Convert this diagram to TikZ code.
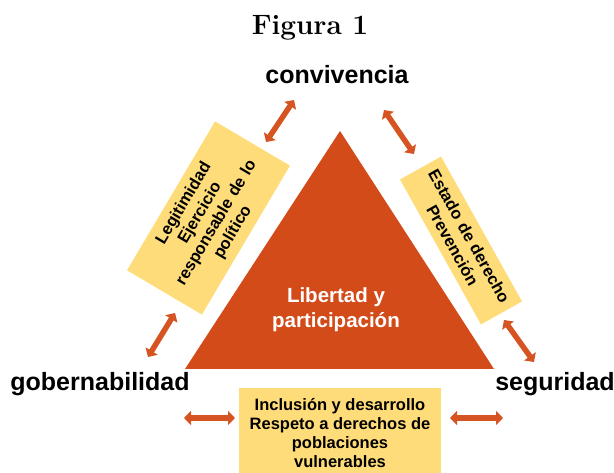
\documentclass[tikz,border=0pt]{standalone}
\usepackage{fontspec}
\usepackage{tikz}
\usetikzlibrary{arrows.meta}
\usetikzlibrary{positioning, calc}
\newfontfamily\arialfont{Liberation Sans}
\definecolor{triorange}{RGB}{210,75,25}
\definecolor{arroworange}{RGB}{214,84,34}
\definecolor{boxyellow}{RGB}{255,220,122}
\tikzset{
    concept/.style = {font=\arialfont\bfseries\fontsize{25}{28}\selectfont, inner sep=0pt},
    valuebox/.style = {fill=boxyellow, inner sep=0pt, align=center,
        font=\arialfont\bfseries\fontsize{16.5}{19}\selectfont},
    link/.style = {{Triangle[length=7pt,width=14pt]}-{Triangle[length=7pt,width=14pt]},
        line width=5.5pt, arroworange},
}

\begin{document}
\begin{tikzpicture}[x=1pt,y=-1pt]
        \useasboundingbox (0,0) rectangle (614,473);
        \node (title) at (310,28) {\bfseries\fontsize{28}{32}\selectfont Figura 1};
        % three corners
        \node [concept] (conv) at (337,75) {convivencia};
        \node [concept] (gob) at (100,384) {gobernabilidad};
        \node [concept] (seg) at (555,384) {seguridad};
        % central triangle
        \coordinate (apex) at (340,131);
        \coordinate (baseL) at (185,369);
        \coordinate (baseR) at (494,369);
        \fill [triorange] (apex) -- (baseR) -- (baseL) -- cycle;
        \node [align=center, white, font=\arialfont\bfseries\fontsize{20.5}{25}\selectfont] (core) at (336,310) {Libertad y\\participación};
        % value boxes
        \node [valuebox, rotate=59.4, minimum width=173pt, minimum height=87pt, text width=150pt] (left) at (208.5,218) {Legitimidad\\Ejercicio\\responsable de lo\\político};
        \node [valuebox, rotate=-60.8, minimum width=166pt, minimum height=47pt, text width=150pt] (right) at (461,240.5) {Estado de derecho\\Prevención};
        \node [valuebox, anchor=north west, minimum width=202pt, minimum height=90pt] (bottom) at (239,388) {};
        \node [font=\arialfont\bfseries\fontsize{16.5}{19}\selectfont, align=center, inner sep=0pt] (bottomtext) at (340,433) {Inclusión y desarrollo\\Respeto a derechos de\\poblaciones\\vulnerables};
        % arrows
        \coordinate (a1) at (294,100);
        \coordinate (a2) at (266,142);
        \coordinate (b1) at (384,110);
        \coordinate (b2) at (414,154);
        \coordinate (c1) at (175,313);
        \coordinate (c2) at (148,357);
        \coordinate (d1) at (504,320);
        \coordinate (d2) at (534,362);
        \coordinate (e1) at (184,418);
        \coordinate (e2) at (235,418);
        \coordinate (f1) at (450,418);
        \coordinate (f2) at (503,418);
        \draw [link] (a1) -- (a2);
        \draw [link] (b1) -- (b2);
        \draw [link] (c1) -- (c2);
        \draw [link] (d1) -- (d2);
        \draw [link] (e1) -- (e2);
        \draw [link] (f1) -- (f2);
\end{tikzpicture}
\end{document}
